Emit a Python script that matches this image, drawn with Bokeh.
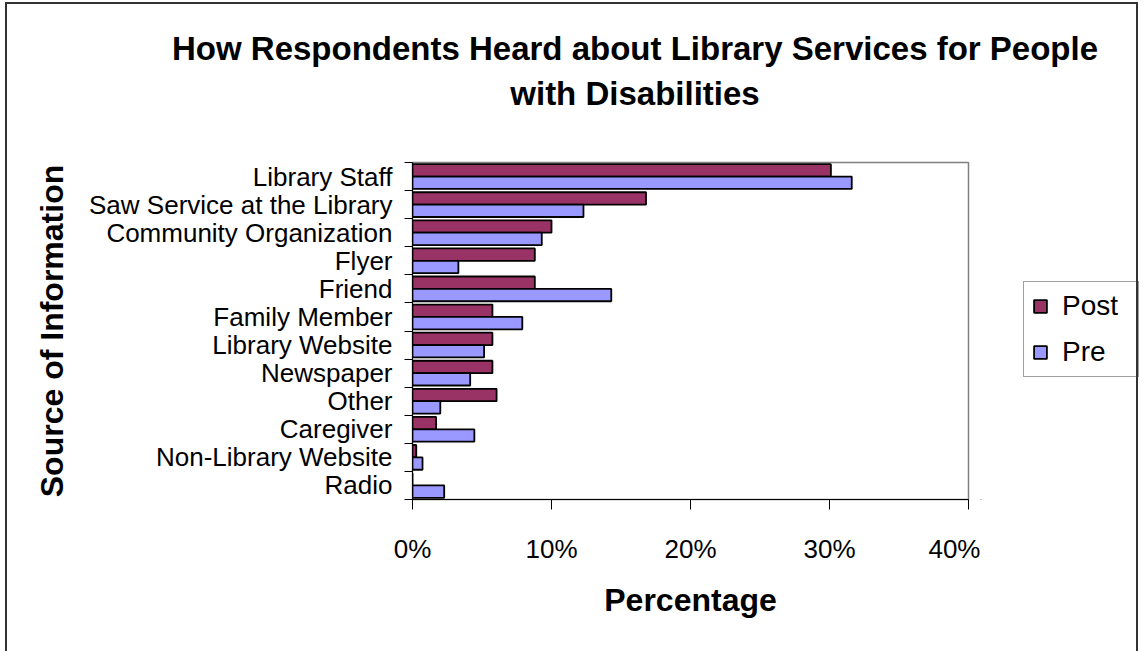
from bokeh.plotting import figure
from bokeh.models import (ColumnDataSource, FixedTicker, PrintfTickFormatter,
                          Legend, LegendItem, Div)
from bokeh.layouts import column, row
from bokeh.transform import dodge
from bokeh.embed import file_html
from bokeh.resources import INLINE

categories = ["Library Staff", "Saw Service at the Library", "Community Organization",
              "Flyer", "Friend", "Family Member", "Library Website", "Newspaper",
              "Other", "Caregiver", "Non-Library Website", "Radio"]
post = [30.1, 16.8, 10.0, 8.8, 8.8, 5.75, 5.75, 5.75, 6.05, 1.7, 0.27, 0.0]
pre = [31.6, 12.3, 9.3, 3.3, 14.3, 7.9, 5.15, 4.15, 2.0, 4.45, 0.72, 2.28]
x_ticks = [0, 10, 20, 30, 40]
series_names = ["Post", "Pre"]
series_colors = ["#993366", "#9999FF"]
title_lines = ["How Respondents Heard about Library Services for People",
               "with Disabilities"]

n = len(categories)
pos = [n - 0.5 - i for i in range(n)]
src = ColumnDataSource(dict(pos=pos, post=post, pre=pre, cat=categories))

FONT = "Liberation Sans"
TITLE_H = 120
MAIN_W = 980

title_div = Div(
    text=('<div style="position:fixed;left:5px;top:2px;width:1133px;height:700px;'
          'border:2px solid #333333;pointer-events:none;z-index:10"></div>'
          '<div style="width:1018px;margin-left:126px;text-align:center;'
          "font-family:'Liberation Sans';font-weight:bold;font-size:33px;"
          'line-height:45px;padding-top:26px;color:black">'
          + "<br>".join(title_lines) + "</div>"),
    width=1144, height=TITLE_H, margin=0)

p = figure(width=MAIN_W, height=651 - TITLE_H, output_backend="svg", toolbar_location=None,
           x_range=(0, x_ticks[-1]), y_range=(0, n),
           min_border_left=412, min_border_right=MAIN_W - 968,
           min_border_top=162 - TITLE_H, min_border_bottom=152)
p.title.visible = False
p.background_fill_color = "white"
p.border_fill_color = "white"
p.outline_line_color = "#808080"
p.outline_line_width = 1.5
p.xgrid.visible = False
p.ygrid.visible = False

p.hbar(y=dodge("pos", 0.22), right="post", left=0, height=0.44, source=src,
       fill_color=series_colors[0], line_color="black", line_width=1.8)
p.hbar(y=dodge("pos", -0.22), right="pre", left=0, height=0.44, source=src,
       fill_color=series_colors[1], line_color="black", line_width=1.8)

# y axis: labels at category centres, tick marks at category boundaries
ya = p.yaxis[0]
ya.ticker = FixedTicker(ticks=pos, minor_ticks=list(range(n + 1)))
ya.major_label_overrides = {pv: c for pv, c in zip(pos, categories)}
ya.major_tick_line_color = None
ya.major_tick_out = 0
ya.major_tick_in = 0
ya.minor_tick_line_color = "black"
ya.minor_tick_out = 8
ya.minor_tick_in = 0
ya.axis_line_color = "black"
ya.major_label_text_font = FONT
ya.major_label_text_font_size = "26px"
ya.major_label_text_color = "black"
ya.major_label_standoff = 12
ya.axis_label = "Source of Information"
ya.axis_label_text_font = FONT
ya.axis_label_text_font_style = "bold"
ya.axis_label_text_font_size = "32px"
ya.axis_label_text_color = "black"
ya.axis_label_standoff = 16

xa = p.xaxis[0]
xa.ticker = FixedTicker(ticks=x_ticks)
xa.formatter = PrintfTickFormatter(format="%d%%")
xa.major_tick_out = 10
xa.major_tick_in = 0
xa.major_tick_line_color = "black"
xa.minor_tick_line_color = None
xa.axis_line_color = "black"
xa.major_label_text_font = FONT
xa.major_label_text_font_size = "26px"
xa.major_label_text_color = "black"
xa.major_label_standoff = 24
xa.axis_label = "Percentage"
xa.axis_label_text_font = FONT
xa.axis_label_text_font_style = "bold"
xa.axis_label_text_font_size = "32px"
xa.axis_label_text_color = "black"
xa.axis_label_standoff = 15

# legend panel to the right of the plot area (its frame is aligned with the main frame)
lg = figure(width=1144 - MAIN_W, height=651 - TITLE_H, output_backend="svg",
            toolbar_location=None, x_axis_location=None, y_axis_location=None,
            x_range=(0, 1), y_range=(0, 1), min_border=0)
lg.title.visible = False
lg.outline_line_color = None
lg.grid.visible = False
lg.background_fill_color = "white"
lg.border_fill_color = "white"
proxy = ColumnDataSource(dict(y=[-10], right=[0]))  # off-range proxy, only for legend glyphs
items = []
for name, color in zip(series_names, series_colors):
    r = lg.hbar(y="y", right="right", left=0, height=0.5, source=proxy,
                fill_color=color, line_color="black", line_width=1.8)
    items.append(LegendItem(label=name, renderers=[r]))

legend = Legend(items=items, location=(1023 - MAIN_W, 499 - 377))
legend.label_text_font = FONT
legend.label_text_font_size = "28px"
legend.label_text_color = "black"
legend.glyph_width = 16
legend.glyph_height = 16
legend.label_standoff = 14
legend.label_width = 68
legend.spacing = 14
legend.padding = 8
legend.margin = 0
legend.border_line_color = "#404040"
legend.border_line_width = 1
legend.background_fill_color = "white"
legend.background_fill_alpha = 1
lg.add_layout(legend)

layout = column(title_div, row(p, lg, spacing=0), spacing=0)
open("out.html", "w").write(file_html(layout, INLINE))
